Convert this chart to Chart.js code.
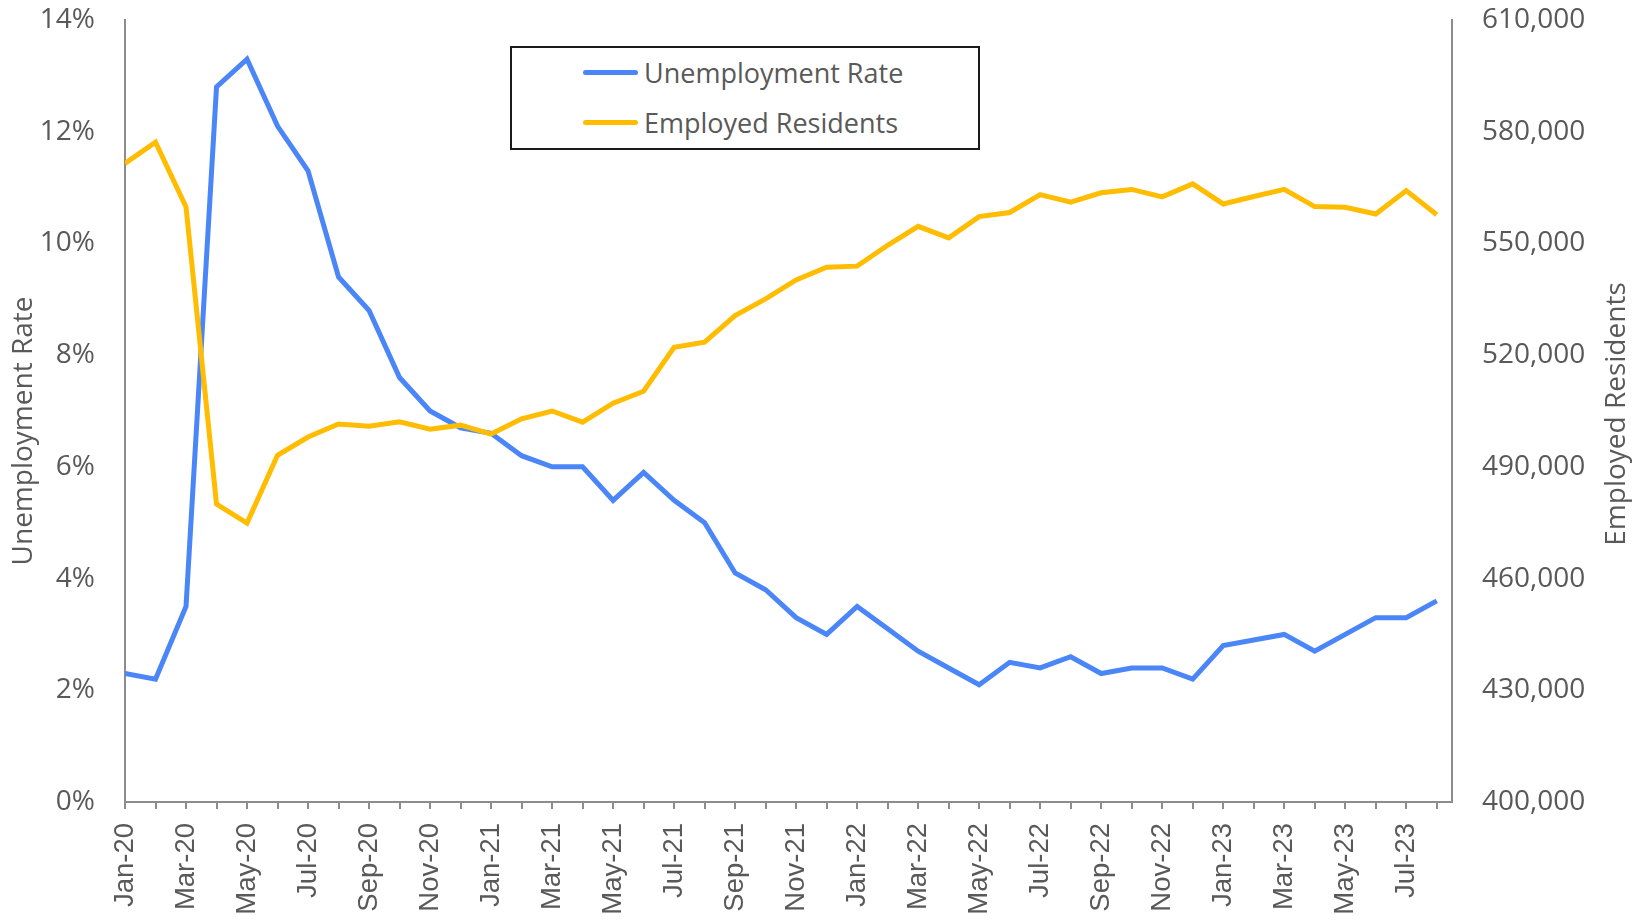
<!DOCTYPE html>
<html>
<head>
<meta charset="utf-8">
<title>Unemployment Rate and Employed Residents</title>
<script src="https://cdn.jsdelivr.net/npm/chart.js@4.4.0/dist/chart.umd.min.js"></script>
<style>
  body { margin: 0; background: #fff; }
  #wrap { position: relative; width: 1646px; height: 920px; }
  #legend {
    position: absolute; left: 510px; top: 46px; width: 466px; height: 100px;
    border: 2px solid #1a1a1a; background: #fff;
    font-family: 'Open Sans', sans-serif; font-size: 27px; color: #595959;
  }
  #legend .item { position: absolute; left: 71px; height: 36px; display: flex; align-items: center; white-space: nowrap; }
  #legend .swatch { width: 55px; height: 5px; border-radius: 3px; margin-right: 6px; }
</style>
</head>
<body>
<div id="wrap">
  <canvas id="chart" width="1646" height="920"></canvas>
  <div id="legend"></div>
</div>
<script>
// --- data ---
const months = [
  'Jan-20', 'Feb-20', 'Mar-20', 'Apr-20', 'May-20', 'Jun-20', 'Jul-20', 'Aug-20', 'Sep-20', 'Oct-20', 'Nov-20', 'Dec-20',
  'Jan-21', 'Feb-21', 'Mar-21', 'Apr-21', 'May-21', 'Jun-21', 'Jul-21', 'Aug-21', 'Sep-21', 'Oct-21', 'Nov-21', 'Dec-21',
  'Jan-22', 'Feb-22', 'Mar-22', 'Apr-22', 'May-22', 'Jun-22', 'Jul-22', 'Aug-22', 'Sep-22', 'Oct-22', 'Nov-22', 'Dec-22',
  'Jan-23', 'Feb-23', 'Mar-23', 'Apr-23', 'May-23', 'Jun-23', 'Jul-23', 'Aug-23'
];

// percent
const unemploymentRate = [
  2.3, 2.2, 3.5, 12.8, 13.3, 12.1, 11.3, 9.4, 8.8, 7.6, 7.0, 6.7,
  6.6, 6.2, 6.0, 6.0, 5.4, 5.9, 5.4, 5.0, 4.1, 3.8, 3.3, 3.0,
  3.5, 3.1, 2.7, 2.4, 2.1, 2.5, 2.4, 2.6, 2.3, 2.4, 2.4, 2.2,
  2.8, 2.9, 3.0, 2.7, 3.0, 3.3, 3.3, 3.6
];

const employedResidents = [
  571500, 577200, 559800, 480000, 474900, 493100, 498000, 501500, 500900, 502100, 500100, 501200,
  498800, 502900, 505000, 502000, 507100, 510300, 522100, 523500, 530600, 535100, 540200, 543600,
  543900, 549500, 554600, 551500, 557200, 558300, 563100, 561100, 563600, 564500, 562500, 566000,
  560600, 562600, 564500, 559900, 559700, 557900, 564200, 557700
];

const rateTicks = { min: 0, max: 14, step: 2 };
const employedTicks = { min: 400000, max: 610000, step: 30000 };

const seriesNames = ['Unemployment Rate', 'Employed Residents'];
const seriesColors = ['#4A86F8', '#FFBC00'];

// --- styles ---
const textColor = '#595959';
const axisColor = '#8c8c8c';
const tickFont = { family: "'Open Sans', sans-serif", size: 28 };
const monthFont = { family: "'Liberation Sans', Arial, sans-serif", size: 27.5 };
const titleFont = '28px "Open Sans", sans-serif';

Chart.defaults.font.family = tickFont.family;
Chart.defaults.color = textColor;

function toPoints(values) {
  return values.map((v, i) => ({ x: i, y: v }));
}

// axis titles, both read bottom-to-top like the original
const axisTitles = {
  id: 'axisTitles',
  afterDraw(chart) {
    const { ctx, chartArea } = chart;
    const midY = (chartArea.top + chartArea.bottom) / 2;
    const items = [
      { text: seriesNames[0], x: chart.scales.yRate.left + 21, y: midY + 20 },
      { text: seriesNames[1], x: chart.scales.yEmp.right - 21, y: midY + 3 }
    ];
    ctx.save();
    ctx.font = titleFont;
    ctx.fillStyle = textColor;
    ctx.textAlign = 'center';
    ctx.textBaseline = 'middle';
    items.forEach((t) => {
      ctx.save();
      ctx.translate(t.x, t.y);
      ctx.rotate(-Math.PI / 2);
      ctx.fillText(t.text, 0, 0);
      ctx.restore();
    });
    ctx.restore();
  }
};

const chart = new Chart(document.getElementById('chart'), {
  type: 'line',
  data: {
    datasets: [
      {
        label: seriesNames[0],
        data: toPoints(unemploymentRate),
        yAxisID: 'yRate',
        borderColor: seriesColors[0],
        backgroundColor: seriesColors[0],
        borderWidth: 5,
        pointRadius: 0,
        tension: 0,
        order: 1
      },
      {
        label: seriesNames[1],
        data: toPoints(employedResidents),
        yAxisID: 'yEmp',
        borderColor: seriesColors[1],
        backgroundColor: seriesColors[1],
        borderWidth: 5,
        pointRadius: 0,
        tension: 0,
        order: 0
      }
    ]
  },
  plugins: [axisTitles],
  options: {
    responsive: false,
    animation: false,
    devicePixelRatio: 1,
    layout: { padding: { left: 3, right: 8, top: 0, bottom: 0 } },
    plugins: {
      legend: { display: false },
      tooltip: { enabled: false }
    },
    scales: {
      x: {
        type: 'linear',
        min: 0,
        max: months.length - 0.5,
        afterFit: (scale) => { scale.height = 118; },
        ticks: {
          stepSize: 1,
          autoSkip: false,
          includeBounds: false,
          minRotation: 90,
          maxRotation: 90,
          padding: 14,
          color: textColor,
          font: monthFont,
          callback: (v) => (Number.isInteger(v) && v % 2 === 0) ? months[v] : ''
        },
        grid: { drawOnChartArea: false, drawTicks: true, tickLength: 7, color: axisColor, lineWidth: 2 },
        border: { display: true, color: axisColor, width: 2 }
      },
      yRate: {
        position: 'left',
        min: rateTicks.min,
        max: rateTicks.max,
        afterFit: (scale) => { scale.width = 122; scale.paddingTop = 20; },
        ticks: {
          stepSize: rateTicks.step,
          padding: 0,
          color: textColor,
          font: tickFont,
          callback: (v) => v + '%'
        },
        // tick marks hidden; tickLength only keeps the labels off the axis line
        grid: { display: false, drawTicks: true, tickLength: 30 },
        border: { display: true, color: axisColor, width: 2 }
      },
      yEmp: {
        position: 'right',
        min: employedTicks.min,
        max: employedTicks.max,
        afterFit: (scale) => { scale.width = 186; scale.paddingTop = 20; },
        ticks: {
          stepSize: employedTicks.step,
          padding: 0,
          color: textColor,
          font: tickFont,
          callback: (v) => v.toLocaleString('en-US')
        },
        grid: { display: false, drawTicks: true, tickLength: 30 },
        border: { display: true, color: axisColor, width: 2 }
      }
    }
  }
});

// --- legend (boxed, inside the plot like the original) ---
const legendEl = document.getElementById('legend');
chart.data.datasets.forEach((ds, i) => {
  const item = document.createElement('div');
  item.className = 'item';
  item.style.top = (i === 0 ? 6 : 56) + 'px';
  item.innerHTML = '<span class="swatch" style="background:' + ds.borderColor + '"></span><span>' + ds.label + '</span>';
  legendEl.appendChild(item);
});
</script>
</body>
</html>
